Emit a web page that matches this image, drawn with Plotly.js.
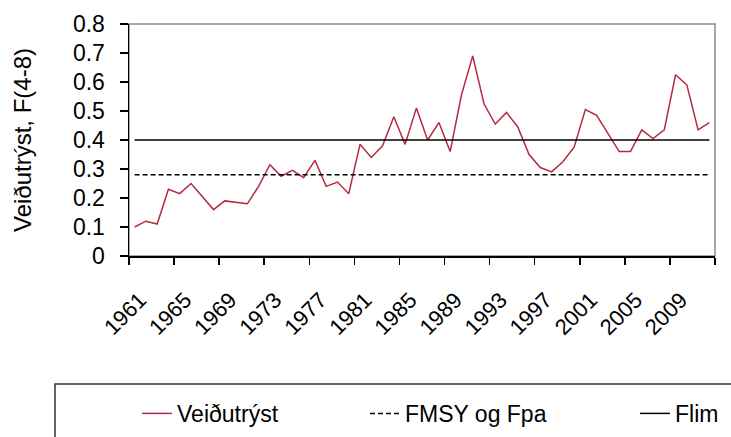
<!DOCTYPE html>
<html>
<head>
<meta charset="utf-8">
<script src="https://cdn.plot.ly/plotly-3.0.1.min.js"></script>
<style>html,body{margin:0;padding:0;background:#fff;}#chart{width:731px;height:437px;}</style>
</head>
<body>
<div id="chart"></div>
<script>
// Years (categories)
const years = [1961,1962,1963,1964,1965,1966,1967,1968,1969,1970,
               1971,1972,1973,1974,1975,1976,1977,1978,1979,1980,
               1981,1982,1983,1984,1985,1986,1987,1988,1989,1990,
               1991,1992,1993,1994,1995,1996,1997,1998,1999,2000,
               2001,2002,2003,2004,2005,2006,2007,2008,2009,2010,
               2011,2012];
// Fishing mortality F(4-8)
const fishingMortality = [0.10,0.12,0.11,0.23,0.215,0.25,0.205,0.16,0.19,0.185,
                          0.18,0.24,0.315,0.275,0.295,0.27,0.33,0.24,0.255,0.215,
                          0.385,0.34,0.38,0.48,0.385,0.51,0.40,0.46,0.36,0.555,
                          0.69,0.525,0.455,0.495,0.445,0.35,0.305,0.29,0.325,0.375,
                          0.505,0.485,0.42,0.36,0.36,0.435,0.405,0.435,0.625,0.59,
                          0.435,0.46];
// Reference points
const fmsyValue = 0.28;
const flimValue = 0.40;
// Tick labels on the x axis
const tickLabelYears = [1961,1965,1969,1973,1977,1981,1985,1989,1993,1997,2001,2005,2009];
const seriesNames = ['Veiðutrýst','FMSY og Fpa','Flim'];
const yTitle = 'Veiðutrýst, F(4-8)';

const FONT = 'Liberation Sans, Arial, sans-serif';

// Tick marks sit between categories; labels shifted to the category
const tickVals = tickLabelYears.map(y => y - 0.5).concat([years[years.length - 1] + 0.5]);
const tickText = tickLabelYears.map(String).concat(['']);

const traces = [
  {
    x: years, y: fishingMortality, name: seriesNames[0], type: 'scatter', mode: 'lines',
    line: {color: '#b52a40', width: 1.5}, legend: 'legend'
  },
  {
    x: years, y: years.map(() => fmsyValue), name: seriesNames[1], type: 'scatter', mode: 'lines',
    line: {color: '#000000', width: 1.5, dash: '5px,3px'}, legend: 'legend2'
  },
  {
    x: years, y: years.map(() => flimValue), name: seriesNames[2], type: 'scatter', mode: 'lines',
    line: {color: '#000000', width: 1.5}, legend: 'legend3'
  }
];

const legendCommon = {
  orientation: 'h', xanchor: 'left', yanchor: 'top', y: -0.586,
  font: {family: FONT, size: 23, color: '#000'}, bgcolor: 'rgba(0,0,0,0)', borderwidth: 0
};

const layout = {
  width: 731, height: 437,
  margin: {l: 129, r: 16, t: 24, b: 181, autoexpand: false},
  paper_bgcolor: '#ffffff', plot_bgcolor: '#ffffff',
  font: {family: FONT, color: '#000'},
  showlegend: true,
  legend: Object.assign({}, legendCommon, {x: 0.0137}),
  legend2: Object.assign({}, legendCommon, {x: 0.4027}),
  legend3: Object.assign({}, legendCommon, {x: 0.8635}),
  xaxis: {
    range: [years[0] - 0.5, years[years.length - 1] + 0.5],
    tickmode: 'array', tickvals: tickVals, ticktext: tickText,
    tickangle: -45, ticklabelshift: 11, ticklabelstandoff: 14,
    ticks: 'outside', ticklen: 7, tickwidth: 1.5, tickcolor: '#000',
    showline: true, linecolor: '#000', linewidth: 1.5,
    showgrid: false, zeroline: false,
    tickfont: {family: FONT, size: 22, color: '#000'}
  },
  yaxis: {
    range: [0, 0.8], dtick: 0.1, tick0: 0,
    ticks: 'outside', ticklen: 8, tickwidth: 1.5, tickcolor: '#000',
    ticklabelstandoff: 10,
    showline: true, linecolor: '#000', linewidth: 1.5,
    showgrid: false, zeroline: false,
    tickfont: {family: FONT, size: 23, color: '#000'},
    title: {text: yTitle, font: {family: FONT, size: 24, color: '#000'}, standoff: 34}
  },
  shapes: [
    {type: 'rect', xref: 'paper', yref: 'paper', x0: 0, x1: 1, y0: 0, y1: 1,
     line: {color: '#8a8a8a', width: 1.5}, layer: 'below'},
    {type: 'rect', xref: 'paper', yref: 'paper', x0: -0.1263, x1: 1.06, y0: -0.5517, y1: -0.95,
     line: {color: '#333333', width: 1.5}, layer: 'below'}
  ]
};

Plotly.newPlot('chart', traces, layout, {displayModeBar: false, staticPlot: true});
</script>
</body>
</html>
